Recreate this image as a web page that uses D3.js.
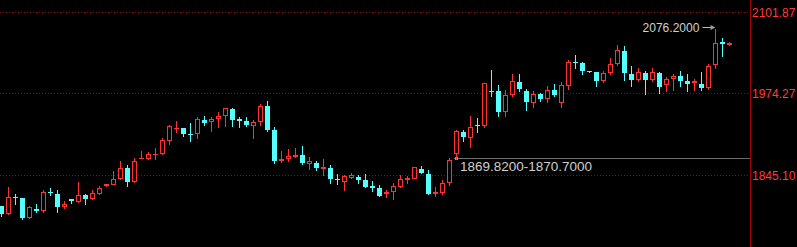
<!DOCTYPE html>
<html>
<head>
<meta charset="utf-8">
<script src="https://cdn.jsdelivr.net/npm/d3@7"></script>
<style>
  html, body { margin: 0; padding: 0; background: #000; overflow: hidden; }
  svg { display: block; }
</style>
</head>
<body>
<script>
const width = 797;
const height = 247;

// OHLC, oldest first
const open = [1796.5,1783.9,1810.7,1808.7,1778.1,1791.8,1788.7,1818.6,1815.9,1794.5,
  1807.6,1802.9,1813.9,1807.6,1815.9,1828.5,1830.1,1838.6,1856.4,1834.9,
  1871.7,1871.1,1878.0,1878.5,1899.5,1918.4,1919.5,1910.0,1909.6,1932.6,
  1929.4,1934.2,1938.9,1949.4,1933.2,1930.5,1923.1,1929.4,1954.2,1916.3,
  1868.0,1870.2,1874.3,1876.9,1863.2,1864.3,1856.4,1856.4,1839.1,1834.9,
  1840.7,1842.3,1837.5,1827.6,1824.9,1815.5,1819.1,1827.0,1839.1,1839.6,
  1855.3,1847.0,1817.0,1817.5,1833.3,1879.0,1913.7,1904.2,1923.8,1923.1,
  1978.3,1977.8,1945.2,1972.0,1991.5,1977.3,1959.4,1973.1,1965.7,1979.4,
  1959.4,1986.2,2023.5,2021.5,2008.9,2007.8,1994.1,2006.7,2020.9,2041.3,
  2004.6,1995.2,2005.7,1994.7,2005.7,1987.8,1997.2,2001.0,1993.6,1990.0,
  1988.9,1983.0,2018.3,2055.1,2050.3];
const high = [1797.0,1826.0,1815.5,1809.0,1796.5,1799.2,1821.8,1824.4,1821.3,1804.0,
  1807.8,1834.4,1815.5,1821.3,1828.1,1831.4,1851.7,1867.5,1861.2,1871.7,
  1883.2,1881.2,1887.5,1903.3,1924.2,1930.5,1920.0,1926.9,1936.4,1937.9,
  1936.4,1944.2,1951.0,1950.5,1936.8,1936.8,1932.1,1957.3,1962.1,1920.6,
  1883.2,1886.4,1888.0,1891.1,1873.8,1867.5,1870.6,1860.7,1847.0,1844.9,
  1848.1,1844.9,1847.0,1836.0,1829.2,1821.8,1832.3,1844.9,1843.8,1858.0,
  1859.6,1853.3,1826.0,1837.5,1872.2,1916.3,1916.3,1938.4,1934.8,1990.5,
  2010.9,1987.3,1979.4,2004.6,2004.6,1981.0,1977.3,1975.1,1985.7,1988.9,
  1992.0,2026.7,2034.6,2023.5,2009.3,2008.2,2008.9,2029.4,2049.9,2048.8,
  2017.2,2013.6,2008.9,2013.6,2008.2,1999.4,2005.1,2008.9,2004.6,1996.7,
  2008.2,2020.4,2076.2,2061.4,2055.1];
const low = [1779.7,1782.4,1798.1,1774.5,1776.1,1786.0,1786.0,1812.8,1786.0,1791.3,
  1799.7,1801.7,1798.1,1806.0,1814.4,1826.0,1829.2,1837.5,1827.0,1833.3,
  1870.2,1869.5,1869.5,1876.9,1892.7,1912.1,1905.8,1897.9,1902.6,1923.1,
  1913.7,1920.0,1921.1,1921.1,1920.0,1921.1,1902.6,1922.7,1913.7,1863.2,
  1864.8,1866.4,1871.7,1860.7,1853.3,1852.2,1843.8,1831.7,1829.6,1820.2,
  1839.6,1831.2,1824.9,1819.1,1811.2,1809.2,1806.0,1824.9,1831.2,1839.2,
  1847.0,1813.4,1811.2,1814.4,1828.1,1869.8,1897.9,1888.4,1911.1,1920.0,
  1968.8,1937.3,1937.3,1968.8,1976.7,1946.8,1951.5,1961.0,1958.4,1968.8,
  1951.5,1979.4,2013.0,2003.5,2006.2,1984.6,1990.9,2003.5,2017.7,1994.1,
  1983.7,1992.5,1971.5,1992.0,1973.1,1975.8,1977.8,1984.6,1976.2,1978.3,
  1978.3,1979.4,2012.0,2031.9,2049.2];
const close = [1783.9,1810.3,1809.2,1777.6,1794.5,1788.7,1818.6,1817.0,1795.4,1799.7,
  1804.4,1813.4,1807.6,1817.0,1824.9,1831.2,1839.1,1856.0,1834.9,1867.0,
  1872.7,1878.0,1879.0,1900.1,1922.7,1919.5,1910.0,1908.9,1933.2,1927.4,
  1933.7,1937.9,1950.5,1932.6,1932.1,1924.2,1928.5,1954.2,1916.8,1868.0,
  1870.6,1875.4,1877.4,1864.8,1867.5,1856.9,1857.5,1839.6,1838.0,1843.8,
  1844.9,1838.0,1826.5,1826.5,1812.8,1818.6,1828.1,1838.6,1840.2,1857.5,
  1848.6,1815.0,1818.1,1832.3,1869.1,1914.8,1905.8,1921.5,1922.7,1990.0,
  1977.3,1945.2,1971.5,1993.1,1981.4,1961.0,1973.1,1965.7,1978.9,1972.0,
  1987.3,2023.5,2022.4,2009.8,2007.3,1994.1,2005.7,2019.9,2042.0,2006.2,
  1995.2,2007.3,1995.2,2007.8,1984.6,1996.3,2001.0,1993.6,1989.3,1993.1,
  1983.0,2017.2,2053.0,2052.4,2053.5];

const yTicks = [2101.87, 1974.27, 1845.10];
const maxLabel = "2076.2000";
const rangeLabel = "1869.8200-1870.7000";
const rangeLevel = 1870.70;

const upColor = "#ff3232";
const downColor = "#54ffff";
const axisX = 750;

const candles = open.map((o, i) => ({ i, o, h: high[i], l: low[i], c: close[i] }));

const x = d3.scaleLinear().domain([0, candles.length - 1]).range([1.5, 729.5]);
const y = d3.scaleLinear().domain([1845.10, 2101.87]).range([175.2, 12.3]);

const svg = d3.select("body")
  .append("svg")
  .attr("width", width)
  .attr("height", height)
  .style("background", "#000");

// dotted grid lines
svg.selectAll(".grid")
  .data(yTicks)
  .enter()
  .append("line")
  .attr("class", "grid")
  .attr("x1", 0)
  .attr("x2", axisX)
  .attr("y1", d => Math.round(y(d)) + 0.5)
  .attr("y2", d => Math.round(y(d)) + 0.5)
  .attr("stroke", "#a00000")
  .attr("stroke-dasharray", "1,2");

// right axis line + labels
svg.append("line")
  .attr("x1", axisX + 0.5).attr("x2", axisX + 0.5)
  .attr("y1", 0).attr("y2", height)
  .attr("stroke", "#a00000");

svg.selectAll(".ylab")
  .data(yTicks)
  .enter()
  .append("text")
  .attr("class", "ylab")
  .attr("x", 752)
  .attr("y", d => y(d) + 4.5)
  .attr("fill", "#ff3c3c")
  .attr("font-family", "Liberation Sans, Arial, sans-serif")
  .attr("font-size", 12)
  .text(d => d.toFixed(2));

// range annotation line
const ry = Math.round(y(rangeLevel)) - 0.5;
svg.append("line")
  .attr("x1", 454).attr("x2", axisX)
  .attr("y1", ry).attr("y2", ry)
  .attr("stroke", "#6e6e6e");
svg.append("rect")
  .attr("x", 455).attr("y", ry - 1.5)
  .attr("width", 3).attr("height", 3)
  .attr("fill", "#9a9a9a");
svg.append("text")
  .attr("x", 460)
  .attr("y", ry + 12)
  .attr("fill", "#cfcfcf")
  .attr("font-family", "Liberation Sans, Arial, sans-serif")
  .attr("font-size", 13.5)
  .attr("textLength", 132)
  .attr("lengthAdjust", "spacingAndGlyphs")
  .text(rangeLabel);

const g = svg.append("g").attr("shape-rendering", "crispEdges");

// wicks
g.selectAll(".wick")
  .data(candles)
  .enter()
  .append("line")
  .attr("class", "wick")
  .attr("x1", d => x(d.i)).attr("x2", d => x(d.i))
  .attr("y1", d => y(d.h)).attr("y2", d => y(d.l))
  .attr("stroke", d => d.c >= d.o ? upColor : downColor);

// bodies
candles.forEach(d => {
  const top = y(Math.max(d.o, d.c));
  const bot = y(Math.min(d.o, d.c));
  const cx = x(d.i);
  const up = d.c >= d.o;
  if (bot - top < 2) {
    g.append("rect")
      .attr("x", cx - 2.5).attr("y", top)
      .attr("width", 5).attr("height", Math.max(1.2, bot - top))
      .attr("fill", up ? upColor : downColor);
  } else if (up) {
    g.append("rect")
      .attr("x", cx - 2).attr("y", top + 0.5)
      .attr("width", 4).attr("height", bot - top - 1)
      .attr("fill", "#000")
      .attr("stroke", upColor);
  } else {
    g.append("rect")
      .attr("x", cx - 2.5).attr("y", top)
      .attr("width", 5).attr("height", bot - top)
      .attr("fill", downColor);
  }
});

// max annotation with arrow
const maxIdx = d3.maxIndex(high);
const mx = x(maxIdx);
const my = y(high[maxIdx]);
svg.append("text")
  .attr("x", mx - 73)
  .attr("y", my + 3)
  .attr("fill", "#cfcfcf")
  .attr("font-family", "Liberation Sans, Arial, sans-serif")
  .attr("font-size", 13.5)
  .attr("textLength", 57)
  .attr("lengthAdjust", "spacingAndGlyphs")
  .text(maxLabel);
svg.append("line")
  .attr("x1", mx - 13).attr("x2", mx - 2)
  .attr("y1", Math.round(my) - 1.5).attr("y2", Math.round(my) - 1.5)
  .attr("stroke", "#bdbdbd");
svg.append("path")
  .attr("d", `M${mx - 5},${Math.round(my) - 4} L${mx},${Math.round(my) - 1.5} L${mx - 5},${Math.round(my) + 1} Z`)
  .attr("fill", "#9a9a9a");
</script>
</body>
</html>
